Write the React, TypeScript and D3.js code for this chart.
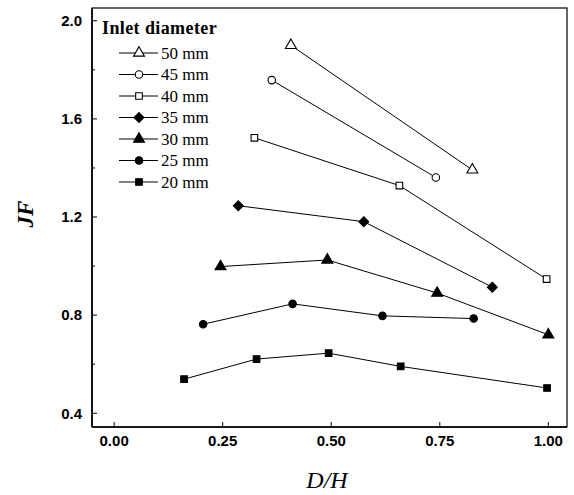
import * as d3 from "d3";

const legendTitle = "Inlet diameter";
const seriesNames = ["50 mm", "45 mm", "40 mm", "35 mm", "30 mm", "25 mm", "20 mm"];
const symbolTypes = ["triangle", "circle", "square", "diamond", "triangle", "circle", "square"];
const filled = [false, false, false, true, true, true, true];

// D/H values per series
const x50 = [0.407, 0.825];
const x45 = [0.363, 0.741];
const x40 = [0.323, 0.657, 0.996];
const x35 = [0.286, 0.575, 0.871];
const x30 = [0.245, 0.491, 0.744, 1.0];
const x25 = [0.205, 0.411, 0.618, 0.828];
const x20 = [0.161, 0.328, 0.494, 0.66, 0.997];

// JF values per series
const y50 = [1.9, 1.392];
const y45 = [1.758, 1.361];
const y40 = [1.523, 1.328, 0.947];
const y35 = [1.246, 1.181, 0.914];
const y30 = [0.998, 1.025, 0.89, 0.72];
const y25 = [0.763, 0.846, 0.797, 0.786];
const y20 = [0.539, 0.621, 0.645, 0.591, 0.503];

const xTicks = [0, 0.25, 0.5, 0.75, 1.0];
const yTicks = [0.4, 0.8, 1.2, 1.6, 2.0];
const yMinorTicks = [0.6, 1.0, 1.4, 1.8];

const xs = [x50, x45, x40, x35, x30, x25, x20];
const ys = [y50, y45, y40, y35, y30, y25, y20];

const symbolFor = (t: string) => {
  if (t === "triangle") return d3.symbol(d3.symbolTriangle, 52);
  if (t === "circle") return d3.symbol(d3.symbolCircle, 44);
  if (t === "square") return d3.symbol(d3.symbolSquare, 44);
  return d3.symbol(d3.symbolDiamond2, 62);
};

const App = () => {
  const width = 574;
  const height = 495;
  const left = 92, right = 567, top = 8, bottom = 427;

  const xScale = d3.scaleLinear().domain([-0.051, 1.043]).range([left, right]);
  const yScale = d3.scaleLinear().domain([0.344, 2.052]).range([bottom, top]);

  const line = d3.line<[number, number]>()
    .x(d => xScale(d[0]))
    .y(d => yScale(d[1]));

  const serif = "'Liberation Serif', 'Times New Roman', serif";
  const sans = "'Liberation Sans', Arial, sans-serif";

  return (
    <svg width={width} height={height} style={{ position: "absolute", left: 0, top: 0, background: "white" }}>
      <rect x={left} y={top} width={right - left} height={bottom - top} fill="none" stroke="black" strokeWidth={1.2} />
      <line x1={left} x2={left} y1={top} y2={bottom} stroke="black" strokeWidth={1.6} />
      <line x1={left} x2={right} y1={bottom} y2={bottom} stroke="black" strokeWidth={1.6} />

      {yTicks.map(t => (
        <g key={"y" + t}>
          <line x1={left} x2={left + 5} y1={yScale(t)} y2={yScale(t)} stroke="black" />
          <text x={82} y={yScale(t)} dy="0.35em" textAnchor="end" fontFamily={sans} fontWeight="bold" fontSize={15}>
            {t.toFixed(1)}
          </text>
        </g>
      ))}
      {yMinorTicks.map(t => (
        <line key={"ym" + t} x1={left} x2={left + 3} y1={yScale(t)} y2={yScale(t)} stroke="black" />
      ))}
      {xTicks.map(t => (
        <g key={"x" + t}>
          <line x1={xScale(t)} x2={xScale(t)} y1={bottom} y2={bottom - 5} stroke="black" />
          <text x={xScale(t)} y={446} textAnchor="middle" fontFamily={sans} fontWeight="bold" fontSize={15}>
            {t.toFixed(2)}
          </text>
        </g>
      ))}

      <text x={327} y={488} textAnchor="middle" fontFamily={serif} fontStyle="italic" fontSize={24}>D/H</text>
      <text transform="translate(33,214) rotate(-90)" textAnchor="middle" fontFamily={serif} fontStyle="italic" fontWeight="bold" fontSize={23}>JF</text>

      {xs.map((sx, i) => {
        const pts = sx.map((v, j) => [v, ys[i][j]] as [number, number]);
        const sym = symbolFor(symbolTypes[i]);
        return (
          <g key={seriesNames[i]}>
            <path d={line(pts) || ""} fill="none" stroke="black" strokeWidth={1} />
            {pts.map((p, j) => (
              <path key={j} d={sym() || ""} transform={`translate(${xScale(p[0])},${yScale(p[1])})`}
                fill={filled[i] ? "black" : "white"} stroke="black" strokeWidth={1.1} />
            ))}
          </g>
        );
      })}

      <text x={102} y={34} fontFamily={serif} fontWeight="bold" fontSize={18} letterSpacing={0.4}>{legendTitle}</text>
      {seriesNames.map((name, i) => {
        const cy = 53 + i * 21.5;
        const sym = symbolFor(symbolTypes[i]);
        return (
          <g key={"leg" + name}>
            <line x1={119} x2={158} y1={cy} y2={cy} stroke="black" />
            <path d={sym() || ""} transform={`translate(139,${cy})`} fill={filled[i] ? "black" : "white"} stroke="black" strokeWidth={1.1} />
            <text x={161} y={cy} dy="0.35em" fontFamily={serif} fontSize={17}>{name}</text>
          </g>
        );
      })}
    </svg>
  );
};

export default App;
